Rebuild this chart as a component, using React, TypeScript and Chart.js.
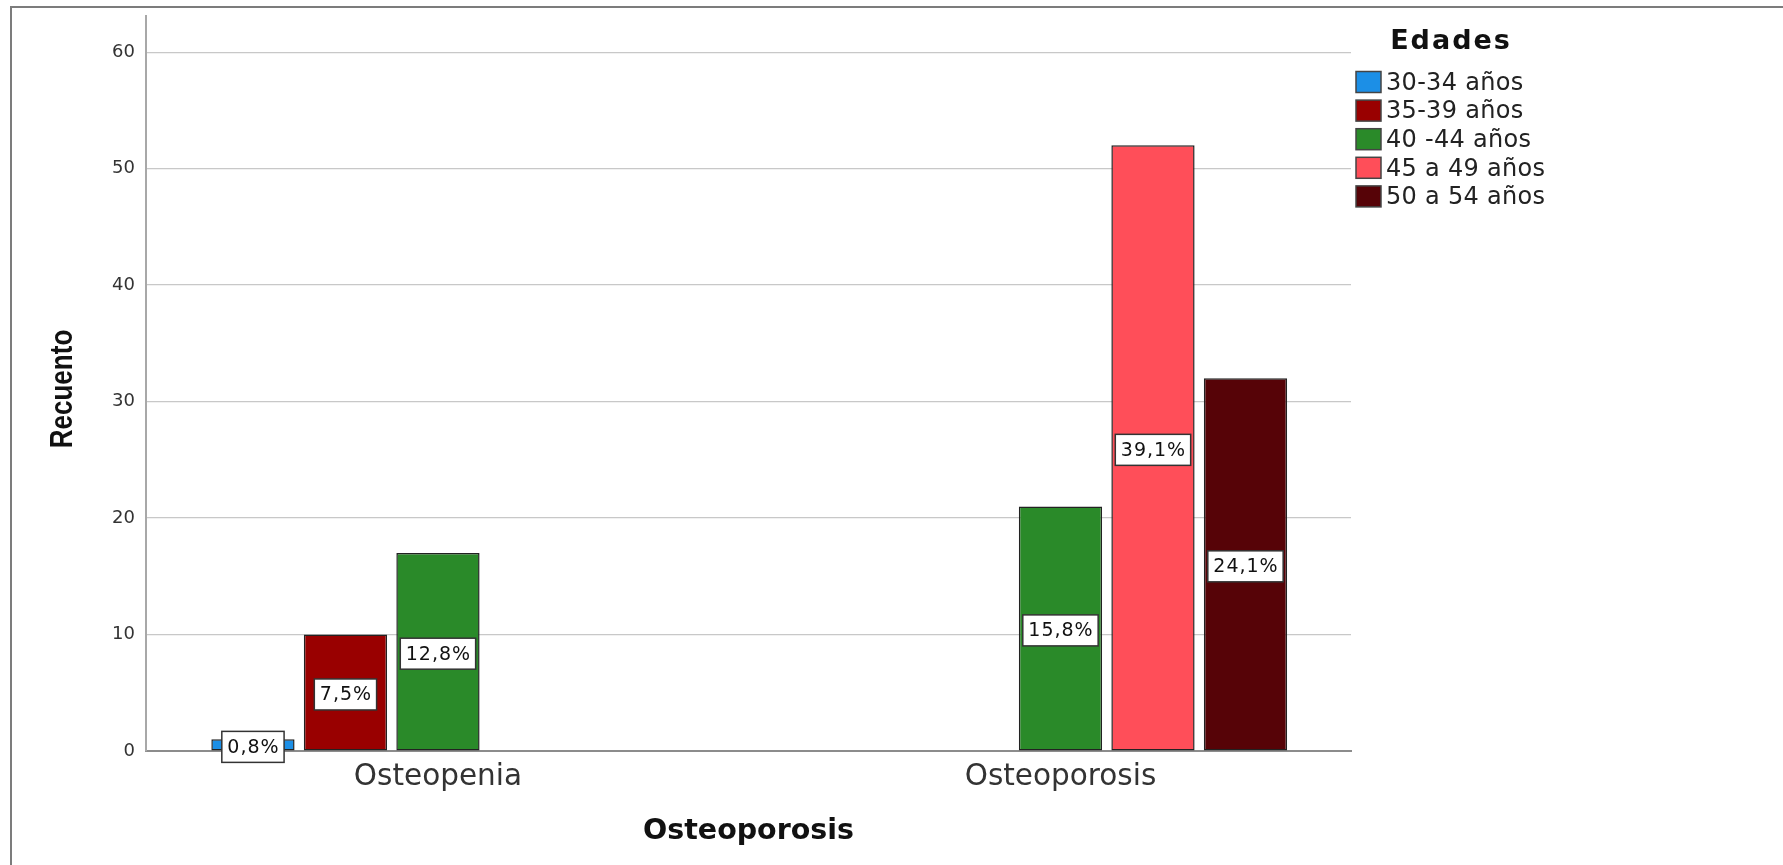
import React, { useEffect, useRef } from 'react';
import { Chart, registerables } from 'chart.js';

Chart.register(...registerables);

// ---- data ----
const categories = ['Osteopenia', 'Osteoporosis'];
const seriesLabels = ['30-34 años', '35-39 años', '40 -44 años', '45 a 49 años', '50 a 54 años'];
const seriesColors = ['#1C8FE6', '#990000', '#2A8A29', '#FF4E59', '#560307'];
const edad3034: (number | null)[] = [1, null];
const edad3539: (number | null)[] = [10, null];
const edad4044: (number | null)[] = [17, 21];
const edad4549: (number | null)[] = [null, 52];
const edad5054: (number | null)[] = [null, 32];
const yTicks = [0, 10, 20, 30, 40, 50, 60];
const xTitle = 'Osteoporosis';
const yTitle = 'Recuento';
const legendTitle = 'Edades';

const allSeries = [edad3034, edad3539, edad4044, edad4549, edad5054];
const grandTotal = allSeries.reduce((s, arr) => s + arr.reduce((a: number, v) => a + (v ?? 0), 0), 0);

const FONT = '"DejaVu Sans", sans-serif';

const overlayPlugin = {
  id: 'overlayPlugin',
  afterDatasetsDraw(chart: any) {
    const ctx = chart.ctx as CanvasRenderingContext2D;
    chart.data.datasets.forEach((ds: any, di: number) => {
      const meta = chart.getDatasetMeta(di);
      meta.data.forEach((bar: any, i: number) => {
        const raw = ds.data[i];
        if (!raw || raw.y == null) return;
        const pct = ((raw.y / grandTotal) * 100).toFixed(1).replace('.', ',') + '%';
        ctx.save();
        (ctx as any).letterSpacing = '1px';
        ctx.font = `19px ${FONT}`;
        const tw = ctx.measureText(pct).width;
        const bw = tw + 10;
        const bh = 31;
        const cx = bar.x;
        const cy = (bar.y + bar.base) / 2 + 2;
        ctx.fillStyle = '#ffffff';
        ctx.fillRect(cx - bw / 2, cy - bh / 2, bw, bh);
        ctx.strokeStyle = '#333333';
        ctx.lineWidth = 1.5;
        ctx.strokeRect(cx - bw / 2, cy - bh / 2, bw, bh);
        ctx.fillStyle = '#111111';
        ctx.textAlign = 'center';
        ctx.textBaseline = 'middle';
        ctx.fillText(pct, cx + 0.5, cy + 1);
        ctx.restore();
      });
    });
  },
  afterDraw(chart: any) {
    const ctx = chart.ctx as CanvasRenderingContext2D;
    const area = chart.chartArea;
    // y axis title (condensed bold)
    ctx.save();
    ctx.translate(area.left - 83, 389);
    ctx.rotate(-Math.PI / 2);
    ctx.scale(0.84, 1);
    ctx.font = `bold 31px "Liberation Sans", Arial, sans-serif`;
    ctx.fillStyle = '#111111';
    ctx.textAlign = 'center';
    ctx.textBaseline = 'middle';
    ctx.fillText(yTitle, 0, 0);
    ctx.restore();

    // legend
    const lx = area.right + 5;
    ctx.save();
    (ctx as any).letterSpacing = '2px';
    ctx.font = `bold 27px ${FONT}`;
    ctx.fillStyle = '#111111';
    ctx.textAlign = 'center';
    ctx.textBaseline = 'middle';
    ctx.fillText(legendTitle, lx + 95, 42);
    ctx.restore();

    chart.data.datasets.forEach((ds: any, i: number) => {
      const cy = 82 + i * 28.6;
      ctx.save();
      ctx.fillStyle = ds.backgroundColor;
      ctx.fillRect(lx, cy - 10.5, 25, 21);
      ctx.strokeStyle = '#444444';
      ctx.lineWidth = 1.5;
      ctx.strokeRect(lx, cy - 10.5, 25, 21);
      (ctx as any).letterSpacing = '0.3px';
      ctx.font = `24px ${FONT}`;
      ctx.fillStyle = '#222222';
      ctx.textAlign = 'left';
      ctx.textBaseline = 'middle';
      ctx.fillText(ds.label, lx + 30, cy + 1.5);
      ctx.restore();
    });
  },
};

export default function App() {
  const canvasRef = useRef<HTMLCanvasElement | null>(null);

  useEffect(() => {
    if (!canvasRef.current) return;
    const datasets = allSeries.map((arr, si) => ({
      label: seriesLabels[si],
      data: arr.map((v, ci) => ({ x: ci, y: v })),
      backgroundColor: seriesColors[si],
      borderColor: '#222222',
      borderWidth: 1.5,
      borderSkipped: false as const,
      categoryPercentage: 0.743,
      barPercentage: 0.9,
    }));

    const chart = new Chart(canvasRef.current, {
      type: 'bar',
      data: { datasets: datasets as any },
      options: {
        animation: false,
        responsive: false,
        devicePixelRatio: 1,
        layout: { padding: { left: 86, top: 16, right: 432, bottom: 0 } },
        plugins: {
          legend: { display: false },
          tooltip: { enabled: false },
        },
        scales: {
          x: {
            type: 'linear',
            offset: false,
            bounds: 'data',
            min: -0.469,
            max: 1.4667,
            afterBuildTicks: (scale: any) => {
              scale.ticks = categories.map((_, i) => ({ value: i }));
            },
            afterFit: (scale: any) => {
              scale.height = 114;
              scale.paddingLeft = 0;
              scale.paddingRight = 0;
            },
            grid: { display: false, drawTicks: false, offset: false },
            border: { display: true, color: '#8c8c8c', width: 2 },
            ticks: {
              autoSkip: false,
              maxRotation: 0,
              padding: 9,
              color: '#333333',
              font: { family: FONT, size: 29.5 },
              callback: (v: any) => categories[Math.round(Number(v))] ?? '',
            },
            title: {
              display: true,
              text: xTitle,
              color: '#111111',
              font: { family: FONT, size: 28.5, weight: 'bold' },
              padding: { top: 16, bottom: 16 },
            },
          },
          y: {
            min: 0,
            max: 63.1,
            afterBuildTicks: (scale: any) => {
              scale.ticks = yTicks.map((v) => ({ value: v }));
            },
            afterFit: (scale: any) => {
              scale.width = 60;
              scale.paddingTop = 0;
              scale.paddingBottom = 0;
            },
            grid: {
              drawTicks: false,
              color: (c: any) => (c.tick && c.tick.value === 0 ? 'rgba(0,0,0,0)' : '#c8c8c8'),
              lineWidth: 1.2,
            },
            border: { display: true, color: '#a8a8a8', width: 2 },
            ticks: {
              padding: 11,
              color: '#333333',
              font: { family: FONT, size: 18 },
            },
          },
        },
      },
      plugins: [overlayPlugin],
    });

    return () => chart.destroy();
  }, []);

  return (
    <div
      style={{
        position: 'absolute',
        left: 0,
        top: 0,
        width: 1783,
        height: 865,
        overflow: 'hidden',
        background: '#ffffff',
      }}
    >
      <canvas ref={canvasRef} width={1783} height={865} style={{ position: 'absolute', left: 0, top: 0 }} />
      <div
        style={{
          position: 'absolute',
          left: 10,
          top: 6,
          width: 1800,
          height: 900,
          borderTop: '2px solid #7c7c7c',
          borderLeft: '2px solid #7c7c7c',
          pointerEvents: 'none',
        }}
      />
    </div>
  );
}
